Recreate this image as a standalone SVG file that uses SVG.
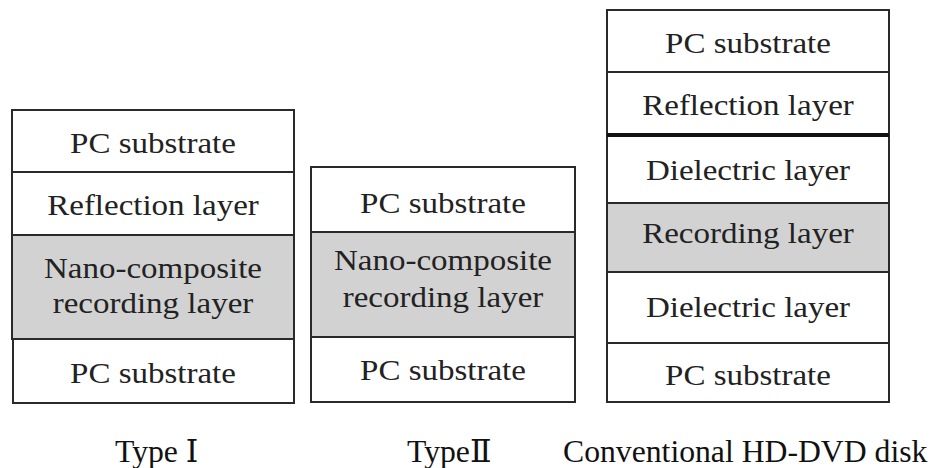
<svg xmlns="http://www.w3.org/2000/svg" width="935" height="468" viewBox="0 0 935 468">
<style>
rect{stroke:#2a2a2a;stroke-width:2;fill:#fff}
rect.g{fill:#d2d2d2}
text{font-family:"Liberation Serif","DejaVu Serif",serif;font-size:30px;fill:#222;text-anchor:middle}
text.lab{font-size:31.7px;text-anchor:start;fill:#111}
</style>
<rect width="935" height="468" fill="#fff" style="stroke:none"/>
<g id="type1">
<rect x="12" y="110" width="282" height="62"/>
<rect x="12" y="172" width="282" height="63"/>
<rect class="g" x="12" y="235" width="282" height="104"/>
<rect x="13" y="339" width="281" height="64"/>
<text transform="translate(153,153) scale(1.1,1)">PC substrate</text>
<text transform="translate(153,215) scale(1.1,1)">Reflection layer</text>
<text transform="translate(153,278) scale(1.1,1)">Nano-composite</text>
<text transform="translate(153,313) scale(1.1,1)">recording layer</text>
<text transform="translate(153,383) scale(1.1,1)">PC substrate</text>
</g>
<g id="type2">
<rect x="311" y="167" width="264" height="65"/>
<rect class="g" x="311" y="232" width="264" height="105"/>
<rect x="311" y="337" width="264" height="65"/>
<text transform="translate(443,213) scale(1.1,1)">PC substrate</text>
<text transform="translate(443,270) scale(1.1,1)">Nano-composite</text>
<text transform="translate(443,307) scale(1.1,1)">recording layer</text>
<text transform="translate(443,380) scale(1.1,1)">PC substrate</text>
</g>
<g id="hddvd">
<rect x="607" y="10" width="282" height="62"/>
<rect x="607" y="72" width="282" height="63"/>
<rect x="607" y="135" width="282" height="68"/>
<rect class="g" x="607" y="203" width="282" height="69"/>
<rect x="607" y="272" width="282" height="71"/>
<rect x="607" y="343" width="282" height="59"/>
<line x1="607" y1="135" x2="889" y2="135" stroke="#111" stroke-width="4"/>
<text transform="translate(748,53) scale(1.1,1)">PC substrate</text>
<text transform="translate(748,115) scale(1.1,1)">Reflection layer</text>
<text transform="translate(748,180) scale(1.1,1)">Dielectric layer</text>
<text transform="translate(748,243) scale(1.1,1)">Recording layer</text>
<text transform="translate(748,317) scale(1.1,1)">Dielectric layer</text>
<text transform="translate(748,385) scale(1.1,1)">PC substrate</text>
</g>
<g id="labels">
<text class="lab" x="115" y="462">Type Ⅰ</text>
<text class="lab" x="407" y="462">TypeⅡ</text>
<text class="lab" x="563" y="462">Conventional HD-DVD disk</text>
</g>
</svg>
